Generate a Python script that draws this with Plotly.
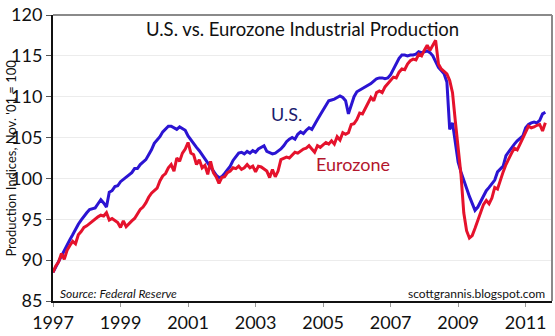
import plotly.graph_objects as go

# Monthly industrial production indices, Nov. 2001 = 100, Jan 1997 onward
start_year = 1997
us_ip = [
    88.5, 89.2, 89.9, 90.5, 91.1, 91.8, 92.5, 93.1, 93.8, 94.4, 94.9, 95.4,
    95.8, 96.2, 96.3, 96.4, 96.9, 97.4, 97.0, 96.5, 98.3, 98.5, 99.0, 99.1,
    99.6, 99.9, 100.2, 100.4, 100.7, 101.2, 101.2, 101.7, 102.0, 102.3, 102.9, 103.5,
    104.3, 104.7, 105.1, 105.7, 106.1, 106.4, 106.4, 106.2, 106.0, 106.3, 106.1, 105.9,
    105.2, 104.7, 104.2, 103.8, 103.4, 102.9, 102.3, 101.8, 101.3, 100.9, 100.4, 100.1,
    100.2, 100.6, 101.0, 101.5, 102.2, 102.7, 103.1, 103.2, 103.0, 103.3, 103.1, 103.4,
    103.2, 103.6, 103.8, 104.0, 103.3, 103.1, 103.0, 103.1, 103.3, 103.6, 104.0, 104.5,
    104.8, 105.0, 104.8, 105.4, 105.7, 105.5, 105.9, 106.2, 106.0, 106.7, 107.2, 107.8,
    108.4, 109.0, 109.5, 109.6, 109.7, 109.9, 110.1, 109.9, 109.5, 107.9, 109.1, 110.0,
    110.6, 110.8, 110.9, 111.2, 111.4, 111.6, 111.9, 112.2, 112.3, 112.3, 112.2, 112.3,
    112.7, 113.4, 114.0, 114.7, 115.1, 115.1, 115.0, 115.1, 115.1, 115.2, 115.5, 115.4,
    115.5, 115.6, 115.4, 115.0, 114.3, 113.6, 113.2, 112.8, 111.8, 106.0, 106.8, 104.5,
    102.0, 100.8, 99.9, 98.8, 97.8, 96.9, 96.1, 96.5, 97.2, 97.9, 98.5, 98.9,
    99.3, 99.8, 100.8, 101.2, 101.5, 102.8, 103.3, 103.8, 104.2, 104.6, 104.9, 105.2,
    106.2, 106.6, 106.8, 106.9, 106.8, 107.1, 107.9, 108.1,
]
eurozone_ip = [
    88.5, 89.3, 89.8, 90.8, 90.1, 91.2, 91.8, 92.3, 92.0, 93.1, 93.5, 94.0,
    94.2, 94.5, 94.8, 95.1, 95.3, 95.5, 95.4, 95.8, 94.9, 95.1, 94.8, 94.6,
    94.0, 94.8, 94.1, 94.5, 94.8, 95.1, 95.6, 96.2, 96.5, 97.0, 97.7, 98.2,
    98.5, 98.8, 99.7, 100.3, 100.6, 101.3, 101.7, 100.9, 102.5, 102.1, 103.1, 103.6,
    104.4, 103.1, 102.9, 101.7, 102.3, 101.3, 101.6, 100.5, 102.1, 100.7, 100.2, 99.4,
    100.1, 100.2, 100.7, 100.9, 101.3, 101.2, 101.5, 101.1, 101.3, 101.7, 101.3, 101.5,
    100.8, 101.5, 101.4, 101.2, 100.9, 100.1, 101.1, 100.2, 100.9, 102.3, 102.5, 102.6,
    102.5, 102.9, 103.2, 103.1, 103.4, 103.6, 103.7, 104.0, 103.6, 103.2, 104.0, 103.8,
    104.1, 104.4, 104.2, 104.6, 104.2, 105.1, 104.7, 105.6, 105.4, 105.6, 106.6, 106.7,
    107.2, 108.0, 107.9, 108.6, 109.1, 109.9, 109.5, 110.5, 110.7, 110.5, 111.2, 111.6,
    112.0, 112.4, 112.3, 113.0, 113.4, 113.3, 114.0, 114.4, 114.6, 114.5, 115.2, 115.0,
    115.7, 116.3, 115.7, 116.4, 116.9, 114.0, 113.4, 113.1, 112.8, 112.0, 110.5, 107.0,
    104.0, 100.5, 95.8, 93.6, 92.7, 93.0, 93.9, 94.8, 95.8, 96.8, 97.3, 96.9,
    97.6, 98.9, 98.7, 99.9, 100.8, 101.7, 102.5, 103.1, 103.7, 103.5, 104.2, 105.0,
    105.8, 106.4, 106.2, 106.3, 106.5, 106.6, 105.8, 106.8,
]
year_ticks = [1997, 1999, 2001, 2003, 2005, 2007, 2009, 2011]
value_ticks = [85, 90, 95, 100, 105, 110, 115, 120]

us_x = [start_year + i / 12 for i in range(len(us_ip))]
ez_x = [start_year + i / 12 for i in range(len(eurozone_ip))]

FONT = "Lato"
US_BLUE = "#2b14d2"
EZ_RED = "#e5122c"

fig = go.Figure()
fig.add_trace(go.Scatter(x=us_x, y=us_ip, mode="lines", name="U.S.",
                         line=dict(color=US_BLUE, width=3)))
fig.add_trace(go.Scatter(x=ez_x, y=eurozone_ip, mode="lines", name="Eurozone",
                         line=dict(color=EZ_RED, width=3)))

fig.update_layout(
    width=555, height=336,
    margin=dict(l=53, r=3, t=10, b=27),
    paper_bgcolor="white", plot_bgcolor="white",
    showlegend=False,
    font=dict(family=FONT, color="#111111"),
    xaxis=dict(
        range=[1997, 2011.78], tickvals=year_ticks,
        ticktext=[str(y) for y in year_ticks],
        showgrid=False, zeroline=False,
        showline=True, linecolor="#111111", linewidth=2,
        ticks="outside", ticklen=4, tickcolor="#999999", tickwidth=1,
        tickfont=dict(size=18, family=FONT, color="#111111"),
        ticklabeloverflow="allow",
    ),
    yaxis=dict(
        range=[85, 120], tickvals=value_ticks,
        showgrid=True, gridcolor="#ececec", gridwidth=1,
        zeroline=False,
        showline=True, linecolor="#111111", linewidth=2,
        ticks="outside", ticklen=5, tickcolor="#555555", tickwidth=1,
        tickfont=dict(size=18, family=FONT, color="#111111"),
        ticklabeloverflow="allow",
    ),
    shapes=[
        # light frame on the top and right of the plot area
        dict(type="line", xref="paper", yref="paper", x0=0, x1=1, y0=1, y1=1,
             line=dict(color="#8a8a8a", width=2)),
        dict(type="line", xref="paper", yref="paper", x0=1, x1=1, y0=0, y1=1,
             line=dict(color="#8a8a8a", width=2)),
    ],
    annotations=[
        dict(text="U.S. vs. Eurozone Industrial Production", xref="paper", yref="paper",
             x=0.5, y=0.95, xanchor="center", yanchor="middle", showarrow=False,
             font=dict(size=18.5, family=FONT, color="#111111")),
        dict(text="Production Indices, Nov. '01 = 100", xref="paper", yref="paper",
             x=-0.085, y=0.5, xanchor="center", yanchor="middle", textangle=-90,
             showarrow=False, font=dict(size=13, family=FONT, color="#111111")),
        dict(text="U.S.", x=2003.93, y=107.9, xanchor="center", yanchor="middle",
             showarrow=False, font=dict(size=18, family=FONT, color="#1c1c6e")),
        dict(text="Eurozone", x=2005.9, y=101.8, xanchor="center", yanchor="middle",
             showarrow=False, font=dict(size=18, family=FONT, color="#b3162c")),
        dict(text="<i>Source: Federal Reserve</i>", xref="paper", yref="paper",
             x=0.01, y=0.025, xanchor="left", yanchor="middle", showarrow=False,
             font=dict(size=12, family=FONT, color="#111111")),
        dict(text="scottgrannis.blogspot.com", xref="paper", yref="paper",
             x=0.99, y=0.025, xanchor="right", yanchor="middle", showarrow=False,
             font=dict(size=12, family=FONT, color="#111111")),
    ],
)

fig.write_html("out.html")
